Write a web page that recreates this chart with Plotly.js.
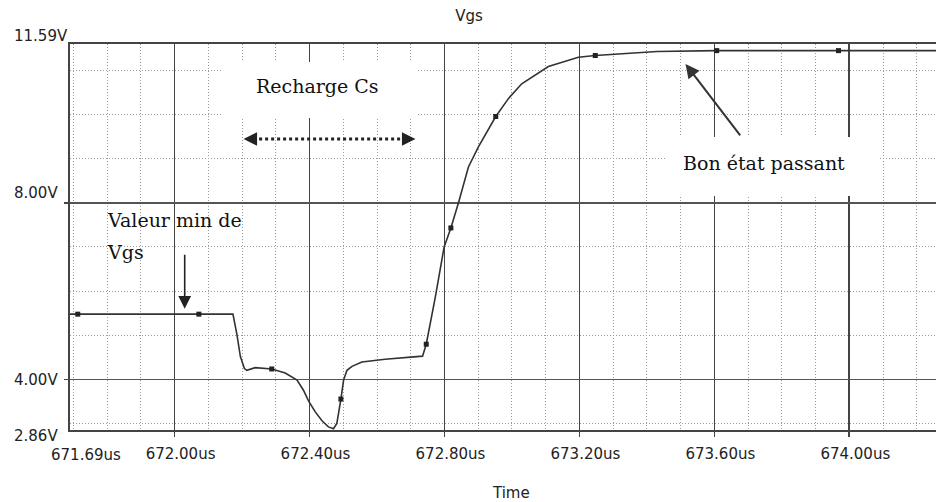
<!DOCTYPE html>
<html>
<head>
<meta charset="utf-8">
<script src="https://cdn.plot.ly/plotly-3.0.1.min.js"></script>
<style>html,body{margin:0;padding:0;background:#fff;}#chart{width:936px;height:502px;}</style>
</head>
<body>
<div id="chart"></div>
<script>
// ---- data ----
const timeUs = [671.69, 671.713, 672.072, 672.173, 672.185, 672.195, 672.207, 672.214, 672.239, 672.288,
  672.328, 672.363, 672.382, 672.397, 672.417, 672.437, 672.456, 672.471, 672.481, 672.488,
  672.493, 672.501, 672.511, 672.526, 672.555, 672.624, 672.684, 672.735, 672.746, 672.773,
  672.799, 672.819, 672.842, 672.871, 672.901, 672.952, 672.990, 673.029, 673.108, 673.197,
  673.247, 673.43, 673.607, 673.968, 674.257];
const vgs = [5.48, 5.48, 5.48, 5.48, 5.01, 4.52, 4.25, 4.21, 4.27, 4.24,
  4.15, 3.99, 3.76, 3.52, 3.27, 3.07, 2.93, 2.89, 3.01, 3.31,
  3.56, 3.99, 4.21, 4.30, 4.40, 4.46, 4.50, 4.53, 4.80, 5.87,
  7.00, 7.43, 8.01, 8.81, 9.27, 9.95, 10.36, 10.69, 11.08, 11.29,
  11.33, 11.42, 11.44, 11.44, 11.44];
const markerIndex = [1, 2, 9, 20, 28, 31, 35, 40, 42, 43];
const xTickVals = [672.0, 672.4, 672.8, 673.2, 673.6, 674.0];
const xTickText = ['672.00us', '672.40us', '672.80us', '673.20us', '673.60us', '674.00us'];
const xFirstVal = 671.69;
const xFirstText = '671.69us';
const yLabelVals = [11.59, 8.00, 4.00, 2.86];
const yLabelText = ['11.59V', '8.00V', '4.00V', '2.86V'];
const yGridVals = [4.00, 8.00];

// ---- layout constants ----
const X0 = 671.69, X1 = 674.257, Y0 = 2.86, Y1 = 11.59;
const sansFont = {family: 'DejaVu Sans, Arial, sans-serif', size: 15, color: '#222'};
const serifFont = {family: 'DejaVu Serif, Liberation Serif, serif', size: 19, color: '#111'};
const yLabelShift = [8.5, 10, 0, -6];

const traces = [
  {x: timeUs, y: vgs, type: 'scatter', mode: 'lines',
   line: {color: '#333', width: 1.6}, hoverinfo: 'x+y', showlegend: false},
  {x: markerIndex.map(i => timeUs[i]), y: markerIndex.map(i => vgs[i]),
   type: 'scatter', mode: 'markers',
   marker: {symbol: 'square', size: 5, color: '#222'}, showlegend: false}
];

const annotations = [];
// y labels
yLabelVals.forEach((v, i) => {
  annotations.push({xref: 'paper', yref: 'y', x: -58/866, y: v, xanchor: 'left', yanchor: 'middle',
    yshift: yLabelShift[i], text: yLabelText[i], showarrow: false, font: sansFont});
});
// first x label (offset lower)
annotations.push({xref: 'x', yref: 'paper', x: xFirstVal, y: 0, xanchor: 'center', yanchor: 'middle',
  xshift: 16, yshift: -25, text: xFirstText, showarrow: false, font: sansFont});
// axis title Time
annotations.push({xref: 'paper', yref: 'paper', x: (511-70)/866, y: -(493-430)/386, xanchor: 'center', yanchor: 'middle',
  text: 'Time', showarrow: false, font: sansFont});
// text notes
annotations.push({xref: 'x', yref: 'y', x: 672.425, y: 10.64, text: 'Recharge Cs', showarrow: false,
  xanchor: 'center', yanchor: 'middle', font: serifFont});
annotations.push({xref: 'x', yref: 'y', x: 673.748, y: 8.90, text: 'Bon état passant', showarrow: false,
  xanchor: 'center', yanchor: 'middle', font: serifFont});
annotations.push({xref: 'x', yref: 'y', x: 671.795, y: 7.61, text: 'Valeur min de', showarrow: false,
  xanchor: 'left', yanchor: 'middle', font: serifFont});
annotations.push({xref: 'x', yref: 'y', x: 671.795, y: 6.89, text: 'Vgs', showarrow: false,
  xanchor: 'left', yanchor: 'middle', font: serifFont});
// arrows
annotations.push({xref: 'x', yref: 'y', axref: 'x', ayref: 'y', x: 672.03, y: 5.60, ax: 672.03, ay: 6.86,
  text: '', showarrow: true, arrowhead: 2, arrowsize: 1.6, arrowwidth: 1.6, arrowcolor: '#222'});
annotations.push({xref: 'x', yref: 'y', axref: 'x', ayref: 'y', x: 673.5145, y: 11.14, ax: 673.68, ay: 9.49,
  text: '', showarrow: true, arrowhead: 2, arrowsize: 1.4, arrowwidth: 2, arrowcolor: '#333'});
annotations.push({xref: 'x', yref: 'y', x: 672.2045, y: 9.44, ax: 10, ay: 0,
  text: '', showarrow: true, arrowhead: 2, arrowsize: 1.5, arrowwidth: 1.8, arrowcolor: '#222'});
annotations.push({xref: 'x', yref: 'y', x: 672.714, y: 9.44, ax: -10, ay: 0,
  text: '', showarrow: true, arrowhead: 2, arrowsize: 1.5, arrowwidth: 1.8, arrowcolor: '#222'});

const shapes = [
  // white masks behind text boxes (hide grid)
  {type: 'rect', xref: 'x', yref: 'y', x0: 672.142, x1: 672.717, y0: 9.916, y1: 11.183,
   fillcolor: '#fff', line: {width: 0}, layer: 'between'},
  {type: 'rect', xref: 'x', yref: 'y', x0: 673.455, x1: 674.087, y0: 8.151, y1: 9.486,
   fillcolor: '#fff', line: {width: 0}, layer: 'between'},
  // dotted double arrow shaft
  {type: 'line', xref: 'x', yref: 'y', x0: 672.215, x1: 672.703, y0: 9.44, y1: 9.44,
   line: {color: '#222', width: 3, dash: 'dot'}}
];

const layout = {
  width: 936, height: 502,
  paper_bgcolor: '#fff', plot_bgcolor: '#fff',
  margin: {l: 70, r: 0, t: 44, b: 72, pad: 0},
  title: {text: 'Vgs', font: sansFont, x: 469/936, xanchor: 'center', xref: 'container',
          y: 1 - 16/502, yanchor: 'middle', yref: 'container'},
  showlegend: false,
  xaxis: {
    range: [X0, X1], tickmode: 'array', tickvals: xTickVals, ticktext: xTickText,
    showgrid: true, gridcolor: '#444', gridwidth: 1.6, zeroline: false,
    showline: true, linecolor: '#444', linewidth: 2, mirror: true,
    ticks: 'outside', ticklen: 5, tickcolor: '#444', tickwidth: 1.6,
    tickfont: sansFont, ticklabelshift: 6, ticklabelstandoff: 4,
    minor: {dtick: 0.1, tick0: 671.7, showgrid: true, gridcolor: '#9a9a9a', gridwidth: 1, griddash: '1px,2px', ticks: ''},
    fixedrange: true
  },
  yaxis: {
    range: [Y0, Y1], tickmode: 'array', tickvals: yGridVals, ticktext: ['', ''],
    showgrid: true, gridcolor: '#555', gridwidth: 1.8, zeroline: false,
    showline: true, linecolor: '#444', linewidth: 2.5, mirror: false,
    ticks: 'outside', ticklen: 4, tickcolor: '#444', tickwidth: 1.6,
    minor: {dtick: 1, tick0: 0, showgrid: true, gridcolor: '#9a9a9a', gridwidth: 1, griddash: '1px,2px', ticks: ''},
    fixedrange: true
  },
  annotations: annotations,
  shapes: shapes
};

Plotly.newPlot('chart', traces, layout, {displayModeBar: false, staticPlot: true});
</script>
</body>
</html>
